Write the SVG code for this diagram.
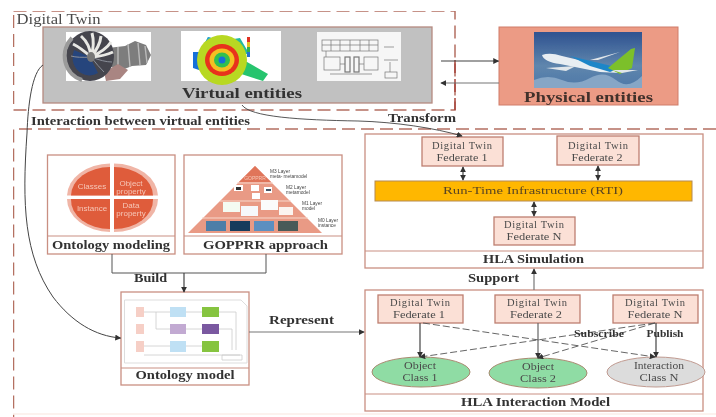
<svg xmlns="http://www.w3.org/2000/svg" width="716" height="417" viewBox="0 0 716 417">
<style>
text{font-family:"Liberation Serif","Times New Roman",serif;text-anchor:middle}
.b{font-weight:bold;fill:#333}
.n{fill:#4a4a4a}
.sm{font-family:"Liberation Sans",Arial,sans-serif;fill:#444;text-anchor:start;font-size:4.800px}
.q{font-family:"Liberation Sans",Arial,sans-serif;fill:#f6c8b8;font-size:8px}
.box{fill:#fff;stroke:#c98f82;stroke-width:1.3}
.fed{fill:#fbe0d6;stroke:#bd7f70;stroke-width:1.3}
.div{stroke:#c98f82;stroke-width:1;fill:none}
.dash{fill:none;stroke:#b46f62;stroke-width:1.5;stroke-dasharray:13 6}
.c{fill:none;stroke:#555;stroke-width:1}
.ca{fill:none;stroke:#444;stroke-width:1.2;marker-end:url(#a)}
.cd{fill:none;stroke:#555;stroke-width:.9;stroke-dasharray:7 3;marker-end:url(#a)}
.cb{fill:none;stroke:#444;stroke-width:1.2;marker-end:url(#a);marker-start:url(#as)}
</style>
<defs>
<marker id="a" viewBox="0 0 8 8" refX="7" refY="4" markerWidth="6" markerHeight="6" markerUnits="userSpaceOnUse" orient="auto"><path d="M0 0L8 4L0 8Z" fill="#333"/></marker>
<marker id="as" viewBox="0 0 8 8" refX="1" refY="4" markerWidth="6" markerHeight="6" markerUnits="userSpaceOnUse" orient="auto"><path d="M8 0L0 4L8 8Z" fill="#333"/></marker>
<filter id="bl" x="-5%" y="-5%" width="110%" height="110%"><feGaussianBlur stdDeviation="0.6"/></filter>
<filter id="soft" x="0" y="0" width="100%" height="100%"><feGaussianBlur stdDeviation="0.3"/></filter>
<linearGradient id="sky" x1="0" y1="0" x2="0" y2="1"><stop offset="0" stop-color="#2f5290"/><stop offset=".6" stop-color="#5f86ad"/><stop offset="1" stop-color="#4e78a8"/></linearGradient>
</defs>

<rect width="716" height="417" fill="#fff"/>
<g filter="url(#soft)">

<g id="digital-twin-frame">
<rect class="dash" x="13.5" y="11" width="441.5" height="99"/>
<path d="M455 60V110" fill="none" stroke="#a8433a" stroke-width="1.5" stroke-dasharray="13 6"/>
<text class="n" x="58.5" y="24" font-size="14" textLength="84" lengthAdjust="spacingAndGlyphs">Digital Twin</text>
</g>

<g id="virtual-entities">
<rect x="43" y="27" width="389" height="76" fill="#c1c1c1" stroke="#b58a80" stroke-width="1.3"/>
<g filter="url(#bl)">
<rect x="66" y="32" width="85" height="49" fill="#fff"/>
<path d="M108 48L125 46L135 41L146 45L151 55L146 65L132 66L122 70L108 66Z" fill="#7d7d7d"/>
<path d="M118 47V68M128 44L130 67M138 43L140 65M145 46L147 63" stroke="#bbb" stroke-width="1.4" fill="none"/>
<path d="M104 72L118 64L128 70L120 79L106 81Z" fill="#a98582"/>
<ellipse cx="90" cy="56" rx="24" ry="25" fill="#44444e"/>
<path d="M72 38A24 25 0 0 0 82 80" fill="none" stroke="#9a9a9a" stroke-width="4"/>
<path d="M74 50A17 18 0 0 0 98 73L90 57Z" fill="#28457c"/>
<g stroke="#e8e8e4" stroke-width="3" fill="none">
<path d="M91 57Q90 44 81 36M91 57Q95 44 92 33M91 57Q100 46 101 36M91 57Q106 50 111 42M91 57Q105 56 113 52M91 57Q81 48 73 44"/>
</g>
<g stroke="#8a8f98" stroke-width="1" fill="none"><path d="M91 57Q104 62 112 62M91 57Q98 66 104 72M91 57Q78 58 71 56"/></g>
<ellipse cx="91" cy="57" rx="4" ry="5" fill="#777"/>
</g>
<g filter="url(#bl)">
<rect x="181" y="31" width="100" height="50" fill="#fff"/>
<path d="M240 58L268 74L263 81L235 72Z" fill="#26c46e"/>
<path d="M208 37L221 41L240 38L250 55L225 48L203 46Z" fill="#22b8a0"/>
<path d="M208 37L222 41L214 48L204 46Z" fill="#2aa0d8"/>
<path d="M193 52L212 52L212 72L205 72L193 68Z" fill="#1470d8"/>
<circle cx="222" cy="60" r="25" fill="#b8d820"/>
<ellipse cx="222" cy="60" rx="17" ry="16" fill="#e8301c"/>
<ellipse cx="222" cy="60" rx="12.500" ry="11.500" fill="#f4c020"/>
<ellipse cx="222" cy="60" rx="8" ry="7.500" fill="#30c050"/>
<circle cx="222" cy="60" r="3.500" fill="#1870d8"/>
<rect x="247" y="37" width="3" height="5" fill="#e03020"/><rect x="247" y="42" width="3" height="5" fill="#e8c020"/><rect x="247" y="47" width="3" height="5" fill="#30b050"/><rect x="247" y="52" width="3" height="5" fill="#2070d0"/>
</g>
<g filter="url(#bl)">
<rect x="317" y="32" width="84" height="49" fill="#f6f6f6"/>
<g fill="none" stroke="#777" stroke-width=".7">
<rect x="322" y="40" width="56" height="11"/>
<path d="M322 45H378M331 40V51M340 40V51M350 40V51M360 40V51M369 40V51"/>
<rect x="324" y="57" width="16" height="13"/>
<rect x="345" y="57" width="5" height="15" stroke-width="1.200"/>
<rect x="354" y="57" width="5" height="15" stroke-width="1.200"/>
<rect x="364" y="57" width="14" height="13"/>
<path d="M330 74H372M326 51V57M340 64H345M359 64H364M384 47H394M384 60H398M390 62V72"/>
<rect x="385" y="72" width="12" height="6"/>
</g>
</g>
<text class="b" x="242" y="98" font-size="15.500" textLength="120" lengthAdjust="spacingAndGlyphs">Virtual entities</text>
</g>

<g id="physical-entities">
<rect x="499" y="27" width="179" height="78" fill="#ec9b85" stroke="#d07d68" stroke-width="1"/>
<g filter="url(#bl)">
<rect x="534" y="32" width="108" height="56" fill="url(#sky)"/>
<path d="M534 80Q548 74 562 80T590 78T616 80T642 76V88H534Z" fill="#86a6c6"/>
<path d="M542 55Q550 52 562 56L612 68L620 73L600 72L560 64Q544 62 542 55Z" fill="#e8eef2"/>
<path d="M570 56L620 68L610 72L590 66Z" fill="#1f86c8"/>
<path d="M608 68L631 49L635 48L632 68L620 74Z" fill="#7cc02c"/>
<path d="M590 60L620 52L598 60Z M612 70L638 70L622 73Z M546 68L576 66L566 71Z" fill="#e0e6ea"/>
</g>
<text class="b" x="588.500" y="102" font-size="14.500" textLength="129" lengthAdjust="spacingAndGlyphs" style="fill:#43302c">Physical entities</text>
</g>

<g id="hla-frame">
<path class="dash" d="M716 129H13.500V417"/>
<path d="M13 414H716" fill="none" stroke="#fbeee8" stroke-width="1.500"/>
</g>

<g id="interaction-label"><text class="b" x="140.500" y="125" font-size="12" textLength="219" lengthAdjust="spacingAndGlyphs">Interaction between virtual entities</text></g>

<g id="ontology-modeling">
<rect class="box" x="47.500" y="155" width="127.500" height="99"/>
<path class="div" d="M47.500 236H175"/>
<g>
<path d="M110 163.500A44 33 0 0 0 67 195.500H110Z" fill="#f0b5a6"/>
<path d="M114 163.500A44 33 0 0 1 158 195.500H114Z" fill="#f0b5a6"/>
<path d="M110 232A44 33 0 0 1 67 199H110Z" fill="#f0b5a6"/>
<path d="M114 232A44 33 0 0 0 158 199H114Z" fill="#f0b5a6"/>
<path d="M110 167A39 29 0 0 0 71 195.500H110Z" fill="#df5b3b"/>
<path d="M114 167A39 29 0 0 1 153 195.500H114Z" fill="#df5b3b"/>
<path d="M110 229A39 29 0 0 1 71 199H110Z" fill="#df5b3b"/>
<path d="M114 229A39 29 0 0 0 153 199H114Z" fill="#df5b3b"/>
</g>
<text class="q" x="92" y="189">Classes</text>
<text class="q" x="131" y="186">Object</text>
<text class="q" x="131" y="194">property</text>
<text class="q" x="92" y="211">Instance</text>
<text class="q" x="131" y="208">Data</text>
<text class="q" x="131" y="216">property</text>
<text class="b" x="111" y="249" font-size="13.500" textLength="118" lengthAdjust="spacingAndGlyphs">Ontology modeling</text>
</g>

<g id="gopprr-approach">
<rect class="box" x="184" y="155" width="158" height="99"/>
<path class="div" d="M184 236H342"/>
<path d="M255 166L322 233H188Z" fill="#e99a85"/>
<path d="M255 166L271 182H239Z" fill="#e0755a"/>
<path d="M237 183H273M220 201H291M202 218H308" stroke="#f8d8cc" stroke-width="1"/>
<g filter="url(#bl)">
<rect x="234" y="185" width="9" height="6" fill="#fff"/><rect x="251" y="185" width="8" height="6" fill="#fff"/><rect x="264" y="187" width="8" height="6" fill="#fff"/><rect x="236" y="187" width="5" height="3" fill="#333"/><rect x="266" y="189" width="5" height="2" fill="#456"/>
<rect x="252" y="193" width="8" height="6" fill="#fff"/>
<rect x="223" y="202" width="17" height="10" fill="#f4fbf2"/><rect x="241" y="206" width="17" height="10" fill="#f6f8fb"/><rect x="261" y="200" width="17" height="10" fill="#fbfbfb"/><rect x="279" y="207" width="14" height="8" fill="#fbf4f0"/>
<rect x="206" y="221" width="20" height="10" fill="#4d7ea8"/><rect x="230" y="221" width="20" height="10" fill="#123a5c"/><rect x="254" y="221" width="20" height="10" fill="#5c8fc0"/><rect x="278" y="221" width="20" height="10" fill="#4a5a58"/>
</g>
<text class="sm" x="270" y="173">M3 Layer</text><text class="sm" x="270" y="178">meta- metamodel</text>
<text class="sm" x="286" y="189">M2 Layer</text><text class="sm" x="286" y="194">metamodel</text>
<text class="sm" x="302" y="205">M1 Layer</text><text class="sm" x="302" y="210">model</text>
<text class="sm" x="318" y="222">M0 Layer</text><text class="sm" x="318" y="227">instance</text>
<text class="q" x="255" y="180" style="font-size:5px">GOPPRR</text>
<text class="b" x="265.500" y="249" font-size="13.500" textLength="125" lengthAdjust="spacingAndGlyphs">GOPPRR approach</text>
</g>

<g id="ontology-model">
<rect class="box" x="121" y="292" width="128" height="93"/>
<path class="div" d="M121 368H249"/>
<g filter="url(#bl)">
<path d="M124.500 300H241L247 306V363H124.500Z" fill="#fff" stroke="#ddd"/>
<rect x="136" y="307" width="8" height="10" fill="#f6cfc6"/><rect x="136" y="324" width="8" height="10" fill="#f6cfc6"/><rect x="136" y="341" width="8" height="11" fill="#f6cfc6"/>
<rect x="170" y="307" width="16" height="10" fill="#bfe0f4"/><rect x="170" y="324" width="16" height="10" fill="#c2aad2"/><rect x="170" y="341" width="16" height="11" fill="#bfe0f4"/>
<rect x="202" y="307" width="17" height="10" fill="#86c440"/><rect x="202" y="324" width="17" height="10" fill="#7a58a0"/><rect x="202" y="341" width="17" height="11" fill="#86c440"/>
<path d="M144 312H170M186 312H202M144 346H170M186 346H202M186 329H202M156 312V329H170M219 312H236V350M219 329H232V350M144 355H240M222 355H242V360H222Z" fill="none" stroke="#ccc" stroke-width=".8"/>
</g>
<text class="b" x="185" y="379" font-size="13" textLength="99" lengthAdjust="spacingAndGlyphs">Ontology model</text>
</g>

<g id="hla-simulation">
<rect class="box" x="365" y="134" width="338" height="134"/>
<path class="div" d="M365 251H703"/>
<text class="b" x="533.500" y="263" font-size="12" textLength="101" lengthAdjust="spacingAndGlyphs">HLA Simulation</text>
</g>
<g id="sim-federate-1">
<rect class="fed" x="422" y="137" width="81" height="29"/>
<text class="n" x="462" y="149" font-size="10.500" textLength="60">Digital Twin</text>
<text class="n" x="462" y="161" font-size="10.500" textLength="51" lengthAdjust="spacingAndGlyphs">Federate 1</text>
</g>
<g id="sim-federate-2">
<rect class="fed" x="557" y="136" width="82" height="29"/>
<text class="n" x="598" y="149" font-size="10.500" textLength="60">Digital Twin</text>
<text class="n" x="597" y="161" font-size="10.500" textLength="51" lengthAdjust="spacingAndGlyphs">Federate 2</text>
</g>
<g id="rti">
<rect x="375" y="181" width="317" height="20" fill="#ffb703" stroke="#b58a50" stroke-width="1"/>
<text x="533" y="194" font-size="11" textLength="180" lengthAdjust="spacingAndGlyphs" fill="#5a4520">Run-Time Infrastructure (RTI)</text>
</g>
<g id="sim-federate-n">
<rect class="fed" x="494" y="217" width="81" height="28"/>
<text class="n" x="534" y="228" font-size="10.500" textLength="60">Digital Twin</text>
<text class="n" x="534" y="240" font-size="10.500" textLength="55" lengthAdjust="spacingAndGlyphs">Federate N</text>
</g>

<g id="hla-interaction-model">
<rect class="box" x="365" y="290" width="338" height="121"/>
<path class="div" d="M365 394H703"/>
<text class="b" x="535.500" y="406" font-size="12" textLength="149" lengthAdjust="spacingAndGlyphs">HLA Interaction Model</text>
</g>
<g id="int-federate-1">
<rect class="fed" x="378" y="295" width="85" height="28"/>
<text class="n" x="420" y="306" font-size="10.500" textLength="60">Digital Twin</text>
<text class="n" x="419" y="318" font-size="10.500" textLength="52" lengthAdjust="spacingAndGlyphs">Federate 1</text>
</g>
<g id="int-federate-2">
<rect class="fed" x="495" y="295" width="85" height="28"/>
<text class="n" x="537" y="306" font-size="10.500" textLength="60">Digital Twin</text>
<text class="n" x="536" y="318" font-size="10.500" textLength="52" lengthAdjust="spacingAndGlyphs">Federate 2</text>
</g>
<g id="int-federate-n">
<rect class="fed" x="613" y="295" width="85" height="28"/>
<text class="n" x="655" y="306" font-size="10.500" textLength="60">Digital Twin</text>
<text class="n" x="655" y="318" font-size="10.500" textLength="55" lengthAdjust="spacingAndGlyphs">Federate N</text>
</g>
<g id="object-class-1">
<ellipse cx="421" cy="372" rx="49" ry="15" fill="#8fdca4" stroke="#a88a70"/>
<text class="n" x="420" y="369" font-size="10.500" textLength="32" lengthAdjust="spacingAndGlyphs">Object</text>
<text class="n" x="420" y="381" font-size="10.500" textLength="35" lengthAdjust="spacingAndGlyphs">Class 1</text>
</g>
<g id="object-class-2">
<ellipse cx="538" cy="373" rx="49" ry="15" fill="#8fdca4" stroke="#a88a70"/>
<text class="n" x="538" y="370" font-size="10.500" textLength="32" lengthAdjust="spacingAndGlyphs">Object</text>
<text class="n" x="538" y="382" font-size="10.500" textLength="36" lengthAdjust="spacingAndGlyphs">Class 2</text>
</g>
<g id="interaction-class-n">
<ellipse cx="656" cy="372" rx="49" ry="15" fill="#dcdcdc" stroke="#c09a90"/>
<text class="n" x="659" y="369" font-size="10.500" textLength="50" lengthAdjust="spacingAndGlyphs">Interaction</text>
<text class="n" x="659" y="381" font-size="10.500" textLength="39" lengthAdjust="spacingAndGlyphs">Class N</text>
</g>

<g id="connectors">
<path class="ca" d="M441 61H498.500"/>
<path class="ca" style="stroke:#777" d="M499 83H441"/>
<path class="ca" style="stroke-width:1" d="M43 65C32 72 28 105 27 133C22 205 24 255 53 297C72 322 95 336 120.500 338"/>
<path class="ca" style="stroke-width:.9" d="M242 105C250 117 300 120 358 121C395 122 435 128 462 136"/>
<path class="c" d="M112 254V273H266V254"/>
<path class="ca" d="M184 273V292"/>
<path class="ca" style="stroke:#777" d="M249 332H364"/>
<path class="cb" d="M463 167V180"/>
<path class="cb" d="M598 166V180"/>
<path class="cb" d="M534 202V216"/>
<path class="ca" style="stroke:#777" d="M534 290V269"/>
<path class="ca" d="M420 323V357"/>
<path class="ca" style="stroke:#666" d="M538 323V358"/>
<path class="ca" d="M656 323V357"/>
<path class="cd" d="M423 323L655 357"/>
<path class="cd" d="M655 323L420 357"/>
<path class="cd" d="M655 323L538 358"/>
</g>

<g id="connector-labels">
<text class="b" x="150.500" y="282" font-size="12" textLength="33" lengthAdjust="spacingAndGlyphs">Build</text>
<text class="b" x="301.500" y="324" font-size="12" textLength="65" lengthAdjust="spacingAndGlyphs">Represent</text>
<text class="b" x="422" y="122" font-size="12" textLength="68" lengthAdjust="spacingAndGlyphs">Transform</text>
<text class="b" x="493.500" y="282" font-size="12" textLength="51" lengthAdjust="spacingAndGlyphs">Support</text>
<text class="b" x="599" y="337" font-size="10.500" textLength="50" lengthAdjust="spacingAndGlyphs">Subscribe</text>
<text class="b" x="665" y="337" font-size="10.500" textLength="37" lengthAdjust="spacingAndGlyphs">Publish</text>
</g>
</g>
</svg>
